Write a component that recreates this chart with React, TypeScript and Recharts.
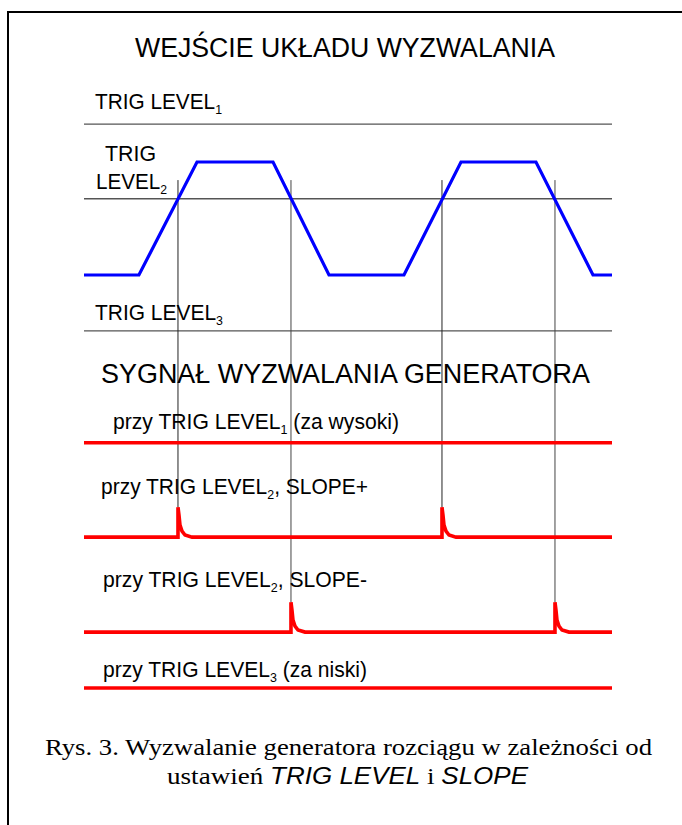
import { LineChart, Line, XAxis, YAxis, ReferenceLine } from 'recharts';

// input signal of the trigger circuit (time in arbitrary units 0..100)
const inputT = [0, 10.4, 21.4, 35.8, 46.4, 60.6, 71.4, 85.6, 96.4, 100];
const inputV = [0, 0, 2, 2, 0, 0, 2, 2, 0, 0];

// TRIG LEVEL 1, 2, 3
const trigLevels = [2.67, 1.35, -0.99];

// moments where the input crosses TRIG LEVEL2
const risingT = [17.8, 67.8];
const fallingT = [39.2, 89.2];

// shape of one trigger pulse (time offset, relative height)
const pulseDt = [0, 0, 0.19, 0.38, 0.76, 1.33, 2.65];
const pulseV = [0, 1, 0.73, 0.4, 0.2, 0.07, 0];

// layout of the output traces below the input
const LANE_BASE = [-2.97, -4.64, -6.32, -7.31];
const LANE_TRIG = [[], risingT, fallingT, []];
const PULSE_AMP = 0.53;
const MARKER_TOP = 1.68;

const SANS = 'Liberation Sans, Arial, sans-serif';
const SERIF = 'Liberation Serif, Times New Roman, serif';

const inputData = inputT.map((t, i) => ({ t, v: inputV[i] }));

const laneData = (base: number, trig: number[]) => {
  const pts = [{ t: 0, v: base }];
  trig.forEach(t0 => {
    pulseDt.forEach((dt, i) => pts.push({ t: t0 + dt, v: base + pulseV[i] * PULSE_AMP }));
  });
  pts.push({ t: 100, v: base });
  return pts;
};

// label with a subscript after "LEVEL"
const Lvl = ({ x, y, pre, n, post, w }: { x: number; y: number; pre: string; n: string; post?: string; w: number }) => (
  <text x={x} y={y} fontSize={22} textLength={w} lengthAdjust="spacingAndGlyphs">
    {pre}
    <tspan fontSize={13} dy={5}>{n}</tspan>
    {post ? <tspan dy={-5}>{post}</tspan> : null}
  </text>
);

const App = () => {
  return (
    <div style={{ position: 'absolute', left: 0, top: 0, width: 682, height: 825, background: '#fff', overflow: 'hidden' }}>
      <div style={{ position: 'absolute', left: 0, top: 0 }}>
        <LineChart width={682} height={825} margin={{ top: 49, right: 70, bottom: 41.5, left: 84 }}>
          <XAxis type="number" dataKey="t" domain={[0, 100]} allowDataOverflow hide />
          <YAxis type="number" domain={[-9, 4]} allowDataOverflow hide />
          {trigLevels.map((lv, i) => (
            <ReferenceLine key={'lv' + i} y={lv} stroke="#555" strokeWidth={1.3} />
          ))}
          {risingT.map((t, i) => (
            <ReferenceLine key={'r' + i} segment={[{ x: t, y: MARKER_TOP }, { x: t, y: LANE_BASE[1] + PULSE_AMP }]} stroke="#222" strokeWidth={1} />
          ))}
          {fallingT.map((t, i) => (
            <ReferenceLine key={'f' + i} segment={[{ x: t, y: MARKER_TOP }, { x: t, y: LANE_BASE[2] + PULSE_AMP }]} stroke="#444" strokeWidth={1} />
          ))}
          <Line data={inputData} dataKey="v" type="linear" stroke="#0000ff" strokeWidth={3.2} dot={false} isAnimationActive={false} />
          {LANE_BASE.map((b, i) => (
            <Line key={'lane' + i} data={laneData(b, LANE_TRIG[i])} dataKey="v" type="linear" stroke="#ff0000" strokeWidth={3.6} dot={false} isAnimationActive={false} />
          ))}
        </LineChart>
      </div>
      <svg width={682} height={825} style={{ position: 'absolute', left: 0, top: 0, pointerEvents: 'none' }}>
        <line x1={8} y1={12} x2={682} y2={12} stroke="#000" strokeWidth={2} />
        <line x1={8} y1={11} x2={8} y2={825} stroke="#000" strokeWidth={2} />
        <g fontFamily={SANS} fill="#000">
          <text x={135} y={57} fontSize={27} textLength={420} lengthAdjust="spacingAndGlyphs">WEJŚCIE UKŁADU WYZWALANIA</text>
          <Lvl x={95} y={109} pre="TRIG LEVEL" n="1" w={127} />
          <text x={105} y={161} fontSize={22} textLength={51} lengthAdjust="spacingAndGlyphs">TRIG</text>
          <Lvl x={96} y={189} pre="LEVEL" n="2" w={71} />
          <Lvl x={95} y={320} pre="TRIG LEVEL" n="3" w={128} />
          <text x={101} y={383} fontSize={27} textLength={489} lengthAdjust="spacingAndGlyphs">SYGNAŁ WYZWALANIA GENERATORA</text>
          <Lvl x={113} y={429} pre="przy TRIG LEVEL" n="1" post=" (za wysoki)" w={286} />
          <Lvl x={101} y={494} pre="przy TRIG LEVEL" n="2" post=", SLOPE+" w={267} />
          <Lvl x={103} y={587} pre="przy TRIG LEVEL" n="2" post=", SLOPE-" w={264} />
          <Lvl x={103} y={677} pre="przy TRIG LEVEL" n="3" post=" (za niski)" w={264} />
        </g>
        <g fontFamily={SERIF} fill="#000" fontSize={24}>
          <text x={45} y={755} textLength={607} lengthAdjust="spacingAndGlyphs">Rys. 3. Wyzwalanie generatora rozciągu w zależności od</text>
          <text x={167} y={784} textLength={361} lengthAdjust="spacingAndGlyphs">
            ustawień <tspan fontFamily={SANS} fontStyle="italic" fontSize={23}>TRIG LEVEL</tspan> i <tspan fontFamily={SANS} fontStyle="italic" fontSize={23}>SLOPE</tspan>
          </text>
        </g>
      </svg>
    </div>
  );
};

export default App;
